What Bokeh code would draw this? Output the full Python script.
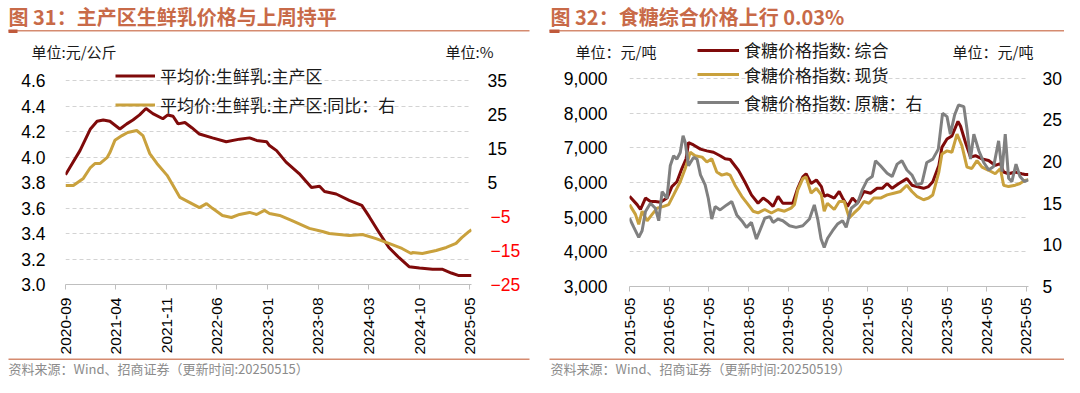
import math
import pandas as pd
from bokeh.plotting import figure
from bokeh.models import (Range1d, LinearAxis, FixedTicker, DatetimeTickFormatter,
                          NumeralTickFormatter, Legend, LegendItem)
from bokeh.core.properties import value
from bokeh.layouts import row, column
from bokeh.embed import file_html
from bokeh.resources import INLINE

# ---------------- data: figure 31 (raw milk) ----------------
milk_ticks = ["2020-09-01", "2021-04-01", "2021-11-01", "2022-06-01", "2023-01-01",
              "2023-08-01", "2024-03-01", "2024-10-01", "2025-05-01"]
milk_dates = ["2020-09-01", "2020-09-20", "2020-11-01", "2020-12-15", "2021-01-12", "2021-02-07",
              "2021-03-07", "2021-04-18", "2021-05-17", "2021-06-12", "2021-07-10", "2021-08-06",
              "2021-09-04", "2021-10-16", "2021-11-06", "2021-11-28", "2021-12-19", "2022-01-17",
              "2022-02-15", "2022-03-19", "2022-05-13", "2022-07-10", "2022-09-04", "2022-10-16",
              "2022-11-15", "2022-12-27", "2023-01-08", "2023-02-07", "2023-03-19", "2023-05-13",
              "2023-07-04", "2023-08-07", "2023-08-28", "2023-10-16", "2023-12-10", "2024-02-01",
              "2024-03-04", "2024-04-13", "2024-05-25", "2024-07-07", "2024-08-18", "2024-10-01",
              "2024-11-25", "2025-01-04", "2025-02-12", "2025-03-16", "2025-04-28", "2025-05-08"]
milk_price = [3.86, 3.92, 4.05, 4.22, 4.28, 4.29,
              4.28, 4.22, 4.26, 4.29, 4.33, 4.38,
              4.34, 4.30, 4.33, 4.32, 4.26, 4.27,
              4.23, 4.18, 4.15, 4.12, 4.14, 4.15,
              4.13, 4.12, 4.09, 4.05, 3.96, 3.87,
              3.76, 3.77, 3.73, 3.71, 3.66, 3.62,
              3.53, 3.41, 3.29, 3.21, 3.14, 3.13,
              3.12, 3.12, 3.09, 3.07, 3.07, 3.07]
yoy_dates = ["2020-09-01", "2020-10-04", "2020-11-15", "2020-12-15", "2021-01-04", "2021-01-25",
             "2021-02-24", "2021-03-07", "2021-03-28", "2021-04-27", "2021-05-21", "2021-06-28",
             "2021-07-24", "2021-08-22", "2021-09-21", "2021-11-03", "2021-11-28", "2021-12-27",
             "2022-02-07", "2022-03-19", "2022-04-18", "2022-05-13", "2022-06-24", "2022-08-01",
             "2022-09-04", "2022-10-16", "2022-11-15", "2022-12-18", "2023-01-08", "2023-02-20",
             "2023-04-13", "2023-06-25", "2023-08-19", "2023-09-17", "2023-12-10", "2024-02-04",
             "2024-04-01", "2024-05-25", "2024-07-19", "2024-08-27", "2024-09-01", "2024-10-13",
             "2024-12-10", "2025-01-22", "2025-03-04", "2025-03-28", "2025-04-28", "2025-05-08"]
milk_yoy = [4.1, 4.1, 6.2, 9.4, 10.6, 10.6,
            12.4, 13.8, 17.4, 18.8, 19.7, 20.3,
            18.8, 13.5, 10.6, 7.1, 4.1, 0.6,
            -0.9, -2.4, -1.2, -2.6, -4.7, -5.3,
            -4.4, -3.8, -4.4, -3.2, -4.1, -4.7,
            -6.2, -8.5, -9.4, -10.0, -10.6, -10.3,
            -11.5, -12.9, -14.4, -15.9, -15.6, -15.9,
            -15.0, -14.1, -12.9, -11.2, -9.4, -8.9]
milk_left_ticks = [3.0, 3.2, 3.4, 3.6, 3.8, 4.0, 4.2, 4.4, 4.6]
milk_right_pos = [5, 15, 25, 35]
milk_right_neg = [-5, -15, -25]

# ---------------- data: figure 32 (sugar) ----------------
sugar_ticks = ["2015-05-01", "2016-05-01", "2017-05-01", "2018-05-01", "2019-05-01", "2020-05-01",
               "2021-05-01", "2022-05-01", "2023-05-01", "2024-05-01", "2025-05-01"]
comp_dates = ["2015-05-01", "2015-07-10", "2015-08-10", "2015-09-25", "2015-11-10", "2015-12-25",
              "2016-02-10", "2016-04-10", "2016-05-25", "2016-07-10", "2016-08-25", "2016-10-03",
              "2016-10-25", "2016-12-10", "2017-02-12", "2017-04-12", "2017-06-12", "2017-08-12",
              "2017-09-27", "2017-11-12", "2018-01-27", "2018-03-27", "2018-05-27", "2018-07-27",
              "2018-09-12", "2018-10-27", "2018-12-12", "2019-01-27", "2019-03-12", "2019-04-27",
              "2019-06-12", "2019-07-27", "2019-09-12", "2019-10-12", "2019-11-27", "2020-01-15",
              "2020-03-01", "2020-03-27", "2020-04-25", "2020-06-27", "2020-08-12", "2020-09-12",
              "2020-10-27", "2020-12-12", "2021-01-27", "2021-03-27", "2021-05-27", "2021-07-27",
              "2021-09-12", "2021-10-27", "2021-12-12", "2022-02-12", "2022-04-27", "2022-06-12",
              "2022-07-27", "2022-09-27", "2022-11-12", "2022-12-21", "2023-02-15", "2023-03-15",
              "2023-05-01", "2023-06-15", "2023-08-10", "2023-09-03", "2023-10-18", "2023-12-03",
              "2024-01-18", "2024-03-18", "2024-05-18", "2024-07-18", "2024-09-03", "2024-10-03",
              "2024-11-18", "2025-01-18", "2025-03-18", "2025-04-18", "2025-05-19"]
sugar_comp = [5600, 5360, 5220, 5550, 5450, 5450,
              5430, 5550, 5880, 6020, 6400, 6680,
              7150, 7080, 6960, 6910, 6870, 6770,
              6680, 6660, 6350, 6020, 5640, 5400,
              5550, 5450, 5310, 5600, 5400, 5400,
              5400, 5830, 6160, 6250, 5970, 6070,
              5880, 5600, 5640, 5550, 5740, 5550,
              5310, 5550, 5400, 5740, 5690, 5830,
              5830, 5970, 5830, 5970, 6110, 5920,
              5880, 5830, 5880, 6020, 6490, 7010,
              7250, 7340, 7760, 7620, 7150, 6730,
              6770, 6680, 6630, 6490, 6540, 6300,
              6250, 6300, 6250, 6230, 6230]
spot_dates = ["2015-05-01", "2015-06-25", "2015-07-25", "2015-08-25", "2015-10-10", "2015-11-25",
              "2016-01-10", "2016-03-10", "2016-04-25", "2016-06-10", "2016-08-10", "2016-09-25",
              "2016-11-10", "2016-12-25", "2017-02-27", "2017-04-12", "2017-05-27", "2017-07-12",
              "2017-08-27", "2017-10-12", "2017-11-12", "2017-12-27", "2018-02-27", "2018-04-27",
              "2018-06-12", "2018-07-27", "2018-09-27", "2018-11-27", "2019-01-27", "2019-03-27",
              "2019-05-27", "2019-06-27", "2019-07-27", "2019-09-12", "2019-10-12", "2019-11-27",
              "2020-01-15", "2020-03-01", "2020-03-27", "2020-04-25", "2020-06-27", "2020-08-12",
              "2020-09-27", "2020-11-12", "2020-12-27", "2021-02-12", "2021-03-27", "2021-05-12",
              "2021-06-27", "2021-08-27", "2021-10-27", "2021-12-27", "2022-02-27", "2022-04-27",
              "2022-06-12", "2022-07-27", "2022-09-27", "2022-11-12", "2022-12-21", "2023-02-15",
              "2023-03-15", "2023-05-01", "2023-06-15", "2023-08-01", "2023-09-15", "2023-11-01",
              "2023-12-15", "2024-02-01", "2024-03-18", "2024-05-18", "2024-07-18", "2024-09-03",
              "2024-10-03", "2024-11-18", "2025-01-18", "2025-03-03", "2025-04-18", "2025-05-19"]
sugar_spot = [5360, 5080, 4790, 5170, 4890, 5080,
              5260, 5310, 5360, 5640, 6020, 6400,
              6870, 6770, 6730, 6590, 6680, 6300,
              6210, 6250, 6210, 5920, 5600, 5360,
              5170, 5120, 5220, 5120, 5220, 5170,
              5260, 5360, 5780, 6110, 6160, 5690,
              5830, 5640, 5170, 5400, 5220, 5450,
              5450, 4980, 5120, 5260, 5450, 5400,
              5550, 5550, 5640, 5690, 5740, 5920,
              5740, 5600, 5500, 5550, 5640, 6300,
              6820, 6910, 6870, 7390, 7060, 6440,
              6400, 6630, 6440, 6350, 6250, 6400,
              5920, 5880, 5920, 5970, 6060, 6080]
raw_dates = ["2015-05-01", "2015-06-10", "2015-07-25", "2015-08-25", "2015-09-25", "2015-11-10",
             "2015-12-25", "2016-01-25", "2016-02-25", "2016-04-10", "2016-05-10", "2016-06-10",
             "2016-07-10", "2016-08-10", "2016-09-05", "2016-09-25", "2016-10-25", "2016-12-10",
             "2017-01-12", "2017-02-12", "2017-03-27", "2017-04-25", "2017-05-27", "2017-06-27",
             "2017-08-12", "2017-10-12", "2017-11-27", "2018-01-12", "2018-02-27", "2018-04-12",
             "2018-05-27", "2018-07-12", "2018-08-12", "2018-09-27", "2018-11-12", "2018-12-12",
             "2019-01-27", "2019-03-12", "2019-05-12", "2019-07-12", "2019-09-12", "2019-11-12",
             "2019-12-27", "2020-01-27", "2020-02-27", "2020-03-27", "2020-04-27", "2020-06-12",
             "2020-07-27", "2020-09-12", "2020-10-15", "2020-12-01", "2021-01-27", "2021-03-12",
             "2021-04-27", "2021-06-12", "2021-07-12", "2021-08-27", "2021-10-27", "2021-12-12",
             "2022-01-27", "2022-03-12", "2022-04-27", "2022-06-12", "2022-07-27", "2022-09-12",
             "2022-10-27", "2022-12-21", "2023-02-10", "2023-03-21", "2023-05-01", "2023-06-01",
             "2023-07-10", "2023-08-15", "2023-10-03", "2023-11-01", "2023-12-03", "2024-01-03",
             "2024-02-18", "2024-04-03", "2024-05-18", "2024-07-03", "2024-08-18", "2024-09-18",
             "2024-10-18", "2024-11-18", "2024-12-18", "2025-01-25", "2025-03-03", "2025-04-12",
             "2025-05-19"]
sugar_raw = [13.2, 12.1, 10.9, 11.7, 14.0, 15.0,
             14.4, 12.9, 16.4, 15.6, 19.5, 20.7,
             20.3, 21.1, 23.1, 22.3, 19.5, 20.5,
             20.3, 18.4, 17.2, 15.6, 13.1, 14.6,
             14.2, 14.8, 15.2, 13.6, 12.9, 12.1,
             12.7, 10.7, 11.7, 13.2, 13.4, 12.7,
             13.1, 12.9, 12.3, 12.1, 12.3, 13.1,
             14.8, 13.1, 10.7, 9.7, 10.8, 11.7,
             12.5, 12.9, 12.1, 14.4, 15.0, 16.6,
             17.8, 18.2, 20.1, 19.5, 18.6, 18.2,
             19.7, 20.1, 19.0, 18.4, 17.2, 17.4,
             19.9, 20.3, 21.5, 25.8, 25.4, 23.3,
             25.6, 26.8, 26.6, 23.9, 20.3, 23.3,
             21.3, 19.9, 19.0, 19.4, 22.5, 18.8,
             23.3, 18.0, 17.6, 19.7, 18.2, 17.6,
             17.8]
sugar_left_ticks = [3000, 4000, 5000, 6000, 7000, 8000, 9000]
sugar_right_ticks = [5, 10, 15, 20, 25, 30]

# ---------------- texts ----------------
title1 = "图 31：主产区生鲜乳价格与上周持平"
title2 = "图 32：食糖综合价格上行 0.03%"
unit1_left, unit1_right = "单位:元/公斤", "单位:%"
unit2_left, unit2_right = "单位：元/吨", "单位：元/吨"
legend1 = ["平均价:生鲜乳:主产区", "平均价:生鲜乳:主产区:同比：右"]
legend2 = ["食糖价格指数: 综合", "食糖价格指数: 现货", "食糖价格指数: 原糖：右"]
source1 = "资料来源：Wind、招商证券（更新时间:20250515）"
source2 = "资料来源：Wind、招商证券（更新时间:20250519）"

# ---------------- styling ----------------
CJK = "Noto Sans CJK SC"
NUM = "Liberation Sans"
RED = "#7F0A0A"
GOLD = "#C9A13D"
GRAY = "#808080"
TITLE_C = "#C86A48"
RULE_C = "#D58B70"
ACC_C = "#C05A3C"
SRC_C = "#8C8C8C"
COL_W = 532
HEAD_H, MAIN_H, FOOT_H = 62, 295, 20
TICK_FS = "15.5px"
YTICK_FS = "17.5px"


def ms(s):
    return pd.Timestamp(s).value / 1e6


def strip(h, y0, x0):
    f = figure(width=COL_W, height=h, x_range=Range1d(x0, x0 + COL_W),
               y_range=Range1d(y0 + h, y0),
               output_backend="svg", toolbar_location=None, title=None,
               x_axis_location=None, y_axis_location=None, min_border=0,
               frame_align=False,
               outline_line_color=None, background_fill_color="white",
               border_fill_color="white")
    f.grid.visible = False
    return f


def txt(f, x, y, s, size, color, bold=False):
    f.text(x=[x], y=[y], text=[s], text_font=value(CJK), text_font_size=value(f"{size}px"),
           text_color=color, text_font_style="bold" if bold else "normal",
           text_baseline="middle", text_align="left")


def rule(f, x1, x2, y1, y2, color):
    f.quad(left=[x1], right=[x2], top=[y1], bottom=[y2], fill_color=color, line_color=None)


def main_fig(fl, fr, ft, fb, xr, yr):
    p = figure(width=COL_W, height=MAIN_H, x_axis_type="datetime",
               x_range=xr, y_range=yr, output_backend="svg", toolbar_location=None,
               title=None, min_border_left=fl, min_border_right=COL_W - fr,
               min_border_top=ft, min_border_bottom=MAIN_H - fb,
               frame_align=False,
               outline_line_color=None, background_fill_color="white",
               border_fill_color="white")
    p.xgrid.visible = False
    p.ygrid.grid_line_color = "#D3D3D3"
    p.ygrid.grid_line_dash = "4 3"
    p.ygrid.grid_line_width = 1
    xa = p.xaxis[0]
    xa.major_label_orientation = math.pi / 2
    xa.axis_line_color = "#BFBFBF"
    xa.major_tick_line_color = "#BFBFBF"
    xa.major_tick_in = 0
    xa.major_tick_out = 5
    xa.minor_tick_line_color = None
    xa.minor_tick_out = 0
    xa.major_label_text_font = NUM
    xa.major_label_text_font_size = TICK_FS
    xa.major_label_text_color = "#000000"
    xa.formatter = DatetimeTickFormatter(years="%Y-%m", months="%Y-%m", days="%Y-%m",
                                         hours="%Y-%m", minutes="%Y-%m")
    ya = p.yaxis[0]
    ya.axis_line_color = None
    ya.major_tick_line_color = None
    ya.minor_tick_line_color = None
    ya.major_tick_out = 0
    ya.minor_tick_out = 0
    ya.major_label_text_font = NUM
    ya.major_label_text_font_size = YTICK_FS
    ya.major_label_text_color = "#000000"
    return p


def side_axis(rng, ticks, standoff, color):
    return LinearAxis(y_range_name=rng, ticker=FixedTicker(ticks=ticks),
                      axis_line_color=None, major_tick_line_color=None,
                      minor_tick_line_color=None, major_tick_out=0, minor_tick_out=0,
                      major_label_standoff=standoff, major_label_text_font=NUM,
                      major_label_text_font_size=YTICK_FS, major_label_text_color=color)


def make_legend(items, vx, vy, lh, sp, gw):
    return Legend(items=items, location=(vx, vy), orientation="vertical",
                  glyph_width=gw, glyph_height=lh, label_height=lh, label_standoff=5,
                  spacing=sp, padding=0, margin=0, border_line_color=None,
                  background_fill_alpha=0, label_text_font=CJK,
                  label_text_font_size="17px", label_text_color="#1A1A1A")


FT = HEAD_H
FOOT_Y = HEAD_H + MAIN_H

# ================= Figure 31 (column x 0..532) =================
# frame in page coords: x 65..471, y 62..284 ; 3.0 at y=284, 4.6 at y=80
B1 = 284
m_px = (B1 - 80) / (4.6 - 3.0)
y1_top = 4.6 + (80 - FT) / m_px
r_px = (B1 - 80) / 60.0
y1r_top = 35 + (80 - FT) / r_px

h1 = strip(HEAD_H, 0, 0)
txt(h1, 8, 16, title1, 20, TITLE_C, bold=True)
rule(h1, 8, 529, 29.5, 31, RULE_C)
rule(h1, 8, 17, 29, 32.5, ACC_C)
txt(h1, 31, 51, unit1_left, 15, "#1A1A1A")
txt(h1, 445, 51, unit1_right, 15, "#1A1A1A")

p1 = main_fig(65, 471, 0, B1 - FT,
              Range1d(ms("2020-09-01"), ms("2025-05-08")), Range1d(3.0, y1_top))
p1.extra_y_ranges = {"yoy": Range1d(-25, y1r_top)}
p1.xaxis[0].ticker = FixedTicker(ticks=[ms(d) for d in milk_ticks])
p1.xaxis[0].major_label_standoff = 8
p1.yaxis[0].ticker = FixedTicker(ticks=milk_left_ticks)
p1.yaxis[0].formatter = NumeralTickFormatter(format="0.0")
p1.yaxis[0].major_label_standoff = 20
p1.ygrid.ticker = FixedTicker(ticks=milk_left_ticks[1:])
p1.add_layout(side_axis("yoy", milk_right_pos, 16, "#000000"), "right")
p1.add_layout(side_axis("yoy", milk_right_neg, -19, "#FF0000"), "right")

r_price = p1.line(pd.to_datetime(milk_dates), milk_price, line_color=RED, line_width=3)
r_yoy = p1.line(pd.to_datetime(yoy_dates), milk_yoy, line_color=GOLD, line_width=3,
                y_range_name="yoy")
# rows centred near y=75 and y=104 (page)
p1.add_layout(make_legend([LegendItem(label=legend1[0], renderers=[r_price]),
                           LegendItem(label=legend1[1], renderers=[r_yoy])],
                          115 - 65, B1 - 119, 29, 0, 40))

f1 = strip(FOOT_H, FOOT_Y, 0)
rule(f1, 8, 529, FOOT_Y + 1, FOOT_Y + 2.5, RULE_C)
txt(f1, 8, FOOT_Y + 11, source1, 13, SRC_C)

# ================= Figure 32 (column x 532..1064) =================
# frame in page coords: x 629..1028, y 62..288 ; 3000 at y=288, 9000 at y=78
X0 = COL_W
B2 = 288
s_px = (B2 - 78) / 6000.0
y2_top = 9000 + (78 - FT) / s_px
g_px = (B2 - 78) / 25.0
y2r_top = 30 + (78 - FT) / g_px

h2 = strip(HEAD_H, 0, X0)
txt(h2, 550, 16, title2, 20, TITLE_C, bold=True)
rule(h2, 549, 1064, 29.5, 31, RULE_C)
rule(h2, 549, 559, 29, 32.5, ACC_C)
txt(h2, 575, 51, unit2_left, 15, "#1A1A1A")
txt(h2, 952, 51, unit2_right, 15, "#1A1A1A")
# key for the 综合 series (its legend row sits in this header strip);
# the key line's own points lie outside the strip's visible range
r_comp_key = h2.line(x=[X0 - 20, X0 - 10], y=[-20, -20], line_color=RED, line_width=3)
h2.add_layout(make_legend([LegendItem(label=legend2[0], renderers=[r_comp_key])],
                          697 - X0, 0, 24, 0, 42))

p2 = main_fig(629 - X0, 1028 - X0, 0, B2 - FT,
              Range1d(ms("2015-05-01"), ms("2025-05-20")), Range1d(3000, y2_top))
p2.extra_y_ranges = {"raw": Range1d(5, y2r_top)}
p2.xaxis[0].ticker = FixedTicker(ticks=[ms(d) for d in sugar_ticks])
p2.xaxis[0].major_label_standoff = 6
p2.yaxis[0].ticker = FixedTicker(ticks=sugar_left_ticks)
p2.yaxis[0].formatter = NumeralTickFormatter(format="0,0")
p2.yaxis[0].major_label_standoff = 22
p2.ygrid.ticker = FixedTicker(ticks=sugar_left_ticks[1:])
p2.add_layout(side_axis("raw", sugar_right_ticks, 14, "#000000"), "right")

r_comp = p2.line(pd.to_datetime(comp_dates), sugar_comp, line_color=RED, line_width=3)
r_spot = p2.line(pd.to_datetime(spot_dates), sugar_spot, line_color=GOLD, line_width=3)
r_raw = p2.line(pd.to_datetime(raw_dates), sugar_raw, line_color=GRAY, line_width=3,
                y_range_name="raw")
# rows centred at y=76 and y=104 (page)
p2.add_layout(make_legend([LegendItem(label=legend2[1], renderers=[r_spot]),
                           LegendItem(label=legend2[2], renderers=[r_raw])],
                          697 - 629, B2 - 118, 28, 0, 42))

f2 = strip(FOOT_H, FOOT_Y, X0)
rule(f2, 549, 1064, FOOT_Y + 1, FOOT_Y + 2.5, RULE_C)
txt(f2, 550, FOOT_Y + 11, source2, 13, SRC_C)

layout = row(column(h1, p1, f1), column(h2, p2, f2))
open("out.html", "w").write(file_html(layout, INLINE))
